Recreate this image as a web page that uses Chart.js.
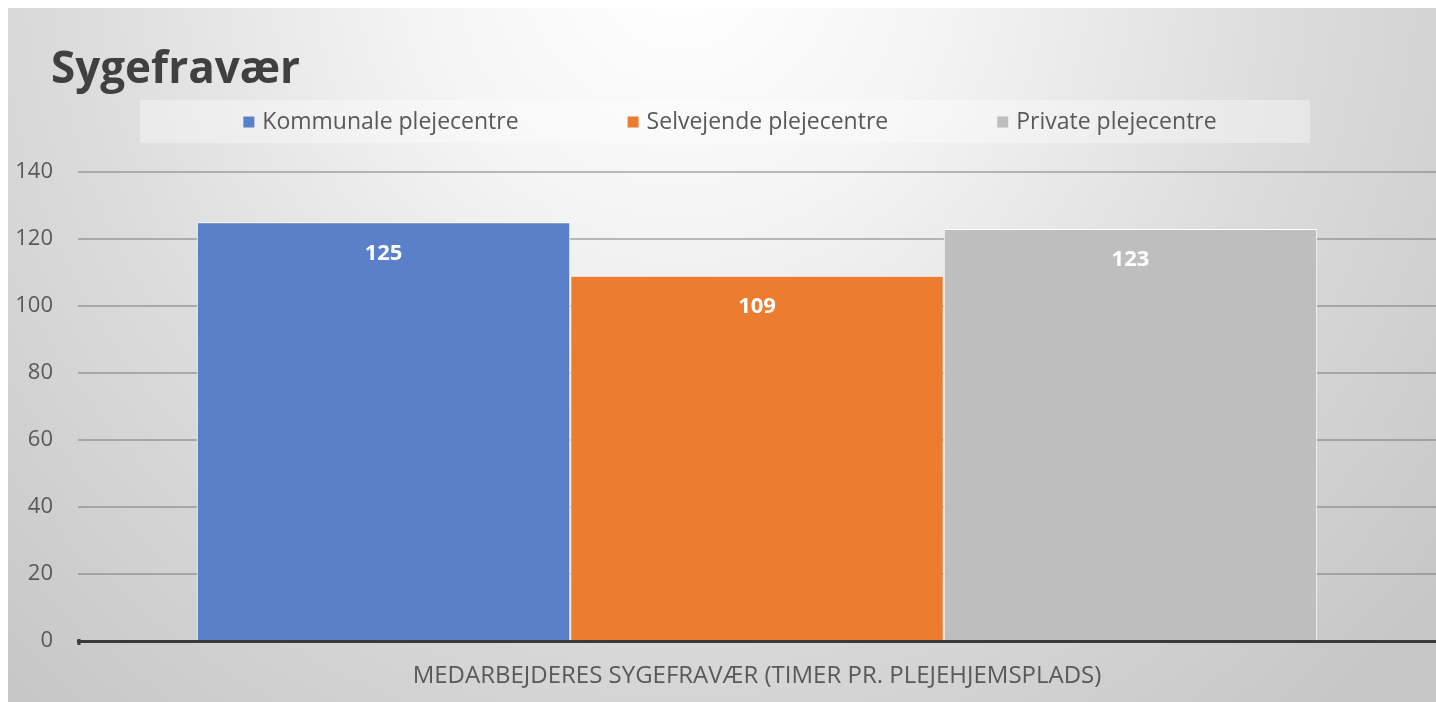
<!DOCTYPE html>
<html>
<head>
<meta charset="utf-8">
<script src="https://cdn.jsdelivr.net/npm/chart.js@4/dist/chart.umd.min.js"></script>
<style>
  html, body { margin: 0; padding: 0; background: #fff; overflow: hidden; }
  #wrap { width: 1436px; height: 702px; }
  canvas { display: block; }
</style>
</head>
<body>
<div id="wrap"><canvas id="chart"></canvas></div>
<script>
// data
const chartTitle = 'Sygefravær';
const categories = ['MEDARBEJDERES SYGEFRAVÆR (TIMER PR. PLEJEHJEMSPLADS)'];
const seriesNames = ['Kommunale plejecentre', 'Selvejende plejecentre', 'Private plejecentre'];
const kommunaleValues = [125];
const selvejendeValues = [109];
const privateValues = [123];
const seriesColors = ['#5a80c9', '#ec7d30', '#bebebe'];
const yMin = 0;
const yMax = 140;
const yStep = 20;

const FONT = '"Open Sans", "Noto Sans", sans-serif';
const TEXT_GREY = '#595959';

// background, title, legend and value labels
const decorations = {
  id: 'decorations',
  beforeDraw(chart) {
    const ctx = chart.ctx;
    ctx.save();
    ctx.fillStyle = '#fff';
    ctx.fillRect(0, 0, chart.width, chart.height);
    const g = ctx.createRadialGradient(680, -40, 20, 680, -40, 1000);
    g.addColorStop(0, '#ffffff');
    g.addColorStop(0.25, '#f4f4f4');
    g.addColorStop(0.6, '#dcdcdc');
    g.addColorStop(1, '#c6c6c6');
    ctx.fillStyle = g;
    ctx.fillRect(8, 8, chart.width - 8, chart.height - 8);
    // soft band behind the legend
    ctx.fillStyle = 'rgba(255,255,255,0.35)';
    ctx.fillRect(140, 100, 1170, 43);
    ctx.restore();
  },
  afterDatasetsDraw(chart) {
    const ctx = chart.ctx;
    ctx.save();
    ctx.font = 'bold 22px ' + FONT;
    ctx.fillStyle = '#ffffff';
    ctx.textAlign = 'center';
    ctx.textBaseline = 'middle';
    chart.data.datasets.forEach((ds, i) => {
      chart.getDatasetMeta(i).data.forEach((bar, j) => {
        ctx.fillText(String(ds.data[j]), bar.x, bar.y + 31);
      });
    });
    ctx.restore();
  },
  afterDraw(chart) {
    const ctx = chart.ctx;
    ctx.save();
    // title
    ctx.font = 'bold 44px ' + FONT;
    ctx.fillStyle = '#404040';
    ctx.textBaseline = 'alphabetic';
    ctx.textAlign = 'left';
    ctx.fillText(chartTitle, 51, 83);
    // legend
    ctx.font = '23px ' + FONT;
    ctx.textBaseline = 'middle';
    const box = 11, gap = 8, spacing = 109;
    const items = chart.data.datasets.map(ds => ({
      label: ds.label,
      color: ds.backgroundColor,
      w: box + gap + ctx.measureText(ds.label).width
    }));
    const total = items.reduce((s, it) => s + it.w, 0) + spacing * (items.length - 1);
    let x = 730 - total / 2;
    const y = 122;
    items.forEach(it => {
      ctx.fillStyle = it.color;
      ctx.fillRect(x, y - box / 2, box, box);
      ctx.fillStyle = TEXT_GREY;
      ctx.fillText(it.label, x + box + gap, y);
      x += it.w + spacing;
    });
    // little hook at the left end of the x axis
    const area = chart.chartArea;
    ctx.strokeStyle = '#3a3a3a';
    ctx.lineWidth = 3;
    ctx.beginPath();
    ctx.moveTo(area.left + 1, area.bottom + 4);
    ctx.lineTo(area.left + 1, area.bottom - 2);
    ctx.stroke();
    ctx.restore();
  }
};

const values = [kommunaleValues, selvejendeValues, privateValues];

new Chart(document.getElementById('chart'), {
  type: 'bar',
  data: {
    labels: categories,
    datasets: seriesNames.map((name, i) => ({
      label: name,
      data: values[i],
      backgroundColor: seriesColors[i],
      borderColor: '#ffffff',
      borderWidth: 1,
      borderSkipped: 'bottom',
      categoryPercentage: 0.825,
      barPercentage: 1.0
    }))
  },
  options: {
    responsive: true,
    maintainAspectRatio: false,
    animation: false,
    layout: {
      padding: { top: 172, left: 15, right: 0, bottom: 0 }
    },
    plugins: {
      legend: { display: false },
      title: { display: false },
      tooltip: { enabled: false }
    },
    scales: {
      x: {
        grid: { display: false, drawTicks: false },
        border: { display: true, color: '#3a3a3a', width: 3 },
        ticks: {
          color: TEXT_GREY,
          font: { family: FONT, size: 24 },
          padding: 21
        },
        afterFit(scale) { scale.height = 61; }
      },
      y: {
        min: yMin,
        max: yMax,
        ticks: {
          stepSize: yStep,
          color: TEXT_GREY,
          font: { family: FONT, size: 22 },
          padding: 25
        },
        grid: {
          color: 'rgba(110,110,110,0.45)',
          lineWidth: 2,
          drawTicks: false
        },
        border: { display: false },
        afterFit(scale) { scale.width = 63; }
      }
    }
  },
  plugins: [decorations]
});
</script>
</body>
</html>
